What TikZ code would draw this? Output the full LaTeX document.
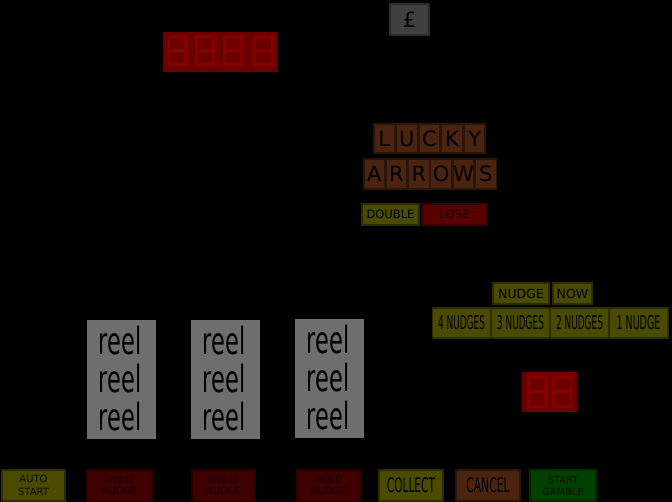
\documentclass[tikz,border=0pt]{standalone}
\usepackage{fontspec}
\setmainfont{DejaVu Sans}
\usepackage{graphicx}
\definecolor{olivef}{HTML}{4B4B00}
\definecolor{oliveb}{HTML}{2C2C00}
\definecolor{redf}{HTML}{3E0000}
\definecolor{redb}{HTML}{2A0000}
\definecolor{redt}{HTML}{120000}
\definecolor{losef}{HTML}{5A0000}
\definecolor{loseb}{HTML}{3A0000}
\definecolor{brownf}{HTML}{4A2410}
\definecolor{brownb}{HTML}{2C1508}
\definecolor{greenf}{HTML}{004000}
\definecolor{greenb}{HTML}{002A00}
\definecolor{greent}{HTML}{001200}
\definecolor{grayf}{HTML}{404040}
\definecolor{grayb}{HTML}{2A2A2A}
\definecolor{reelf}{HTML}{6E6E6E}
\definecolor{dispf}{HTML}{6A0000}
\definecolor{segc}{HTML}{860000}
\newcommand\fsz[2]{\fontsize{#1}{#2}\selectfont}
\newcommand\cond[2]{\scalebox{#1}[1]{#2}}
\newcommand\segdig[4]{%
  \draw[seg] (#1+1.5,#2+1.5) rectangle (#3-1.5,#4-1.5);
  \draw[seg] (#1+1.5,{(#2+#4)/2}) -- (#3-1.5,{(#2+#4)/2});}
\tikzset{
  panel/.style={draw, line width=1.6pt, inner sep=0pt, align=center, text=black},
  olivebtn/.style={panel, fill=olivef, draw=oliveb},
  redbtn/.style={panel, fill=redf, draw=redb, text=redt},
  brownbtn/.style={panel, fill=brownf, draw=brownb},
  greenbtn/.style={panel, fill=greenf, draw=greenb, text=greent},
  letterbox/.style={brownbtn, minimum width=21pt, font=\fsz{21}{21}},
  reelbox/.style={fill=reelf, draw=none, minimum width=69pt, minimum height=119pt, inner sep=0pt},
  reeltxt/.style={inner sep=0pt, text=black, font=\fsz{34}{34}},
  seg/.style={draw=segc, line width=3pt},
  bottom/.style={minimum height=31pt},
}
\begin{document}
\begin{tikzpicture}[x=1pt,y=-1pt]
\useasboundingbox (0,0) rectangle (672,502);
\fill[black] (0,0) rectangle (672,502);

% pound
\node[panel, fill=grayf, draw=grayb, minimum width=39pt, minimum height=31pt, font=\fsz{21}{21}] (pound) at (409.5,19.5) {£};

% big display
\fill[dispf] (163,32) rectangle (278,72);
\segdig{167}{35}{187}{66}
\segdig{195}{35}{215}{66}
\segdig{223}{35}{243}{66}
\segdig{253}{35}{274}{66}
\fill[segc] (189,64) rectangle (191,66);
\fill[segc] (217,64) rectangle (219,66);
\fill[segc] (245,64) rectangle (247,66);
\fill[segc] (275,64) rectangle (277,66);

% small display
\fill[dispf] (522,372) rectangle (577,412);
\segdig{527}{376}{547}{408}
\segdig{552}{376}{572}{408}

% LUCKY ARROWS
\foreach \c/\i in {L/0,U/1,C/2,K/3,Y/4}
  \node[letterbox, minimum height=29pt] (lucky\i) at ({384.3+22.6*\i},138.5) {\c};
\foreach \c/\i in {A/0,R/1,R/2,O/3,W/4,S/5}
  \node[letterbox, minimum height=30pt] (arrows\i) at ({374.2+22.33*\i},174) {\c};

% DOUBLE / LOSE
\node[olivebtn, minimum width=57pt, minimum height=21pt, font=\fsz{11.5}{12}] (double) at (390.5,214.5) {DOUBLE};
\node[panel, fill=losef, draw=loseb, text=redt, minimum width=65pt, minimum height=21pt, font=\fsz{11.8}{12}] (lose) at (454.5,214.5) {LOSE};

% NUDGE NOW
\node[olivebtn, minimum width=56pt, minimum height=21pt, font=\fsz{12.5}{13}] (nudge) at (521,293.5) {NUDGE};
\node[olivebtn, minimum width=39pt, minimum height=21pt, font=\fsz{12.5}{13}] (now) at (572.5,293.5) {NOW};

% nudges row
\node[olivebtn, minimum width=58pt, minimum height=30pt, font=\fsz{19}{19}] (n4) at (461.5,323) {\cond{0.47}{4 NUDGES}};
\node[olivebtn, minimum width=58pt, minimum height=30pt, font=\fsz{19}{19}] (n3) at (520.5,323) {\cond{0.47}{3 NUDGES}};
\node[olivebtn, minimum width=58pt, minimum height=30pt, font=\fsz{19}{19}] (n2) at (579.5,323) {\cond{0.47}{2 NUDGES}};
\node[olivebtn, minimum width=59pt, minimum height=30pt, font=\fsz{19}{19}] (n1) at (638.5,323) {\cond{0.5}{1 NUDGE}};

% reels
\node[reelbox] (reelA) at (121.5,379.5) {};
\node[reelbox] (reelB) at (225.5,379.5) {};
\node[reelbox] (reelC) at (329.5,378.5) {};
\foreach \x/\n/\d in {120/A/0,224/B/0,328/C/-1}{
  \node[reeltxt] (r\n1) at (\x,341+\d) {\scalebox{0.66}[1.1]{reel}};
  \node[reeltxt] (r\n2) at (\x,379+\d) {\scalebox{0.66}[1.1]{reel}};
  \node[reeltxt] (r\n3) at (\x,417+\d) {\scalebox{0.66}[1.1]{reel}};
}

% bottom buttons
\node[olivebtn, bottom, minimum width=63pt, font=\fsz{10}{12.5}, text=black!85!olivef] (auto) at (33.5,485.5) {AUTO\\START};
\node[redbtn, bottom, minimum width=65pt, font=\fsz{9.8}{11.5}] (hold1) at (119.5,485.5) {HOLD\\NUDGE};
\node[redbtn, bottom, minimum width=63pt, font=\fsz{9.8}{11.5}] (hold2) at (223.5,485.5) {HOLD\\NUDGE};
\node[redbtn, bottom, minimum width=63pt, font=\fsz{9.8}{11.5}] (hold3) at (328.5,485.5) {HOLD\\NUDGE};
\node[olivebtn, bottom, minimum width=64pt, font=\fsz{20}{20}] (collect) at (411,485.5) {\cond{0.53}{COLLECT}};
\node[brownbtn, bottom, minimum width=64pt, font=\fsz{20}{20}] (cancel) at (488,485.5) {\cond{0.54}{CANCEL}};
\node[greenbtn, bottom, minimum width=66pt, font=\fsz{9.8}{12}] (gamble) at (563,485.5) {START\\GAMBLE};
\end{tikzpicture}
\end{document}
